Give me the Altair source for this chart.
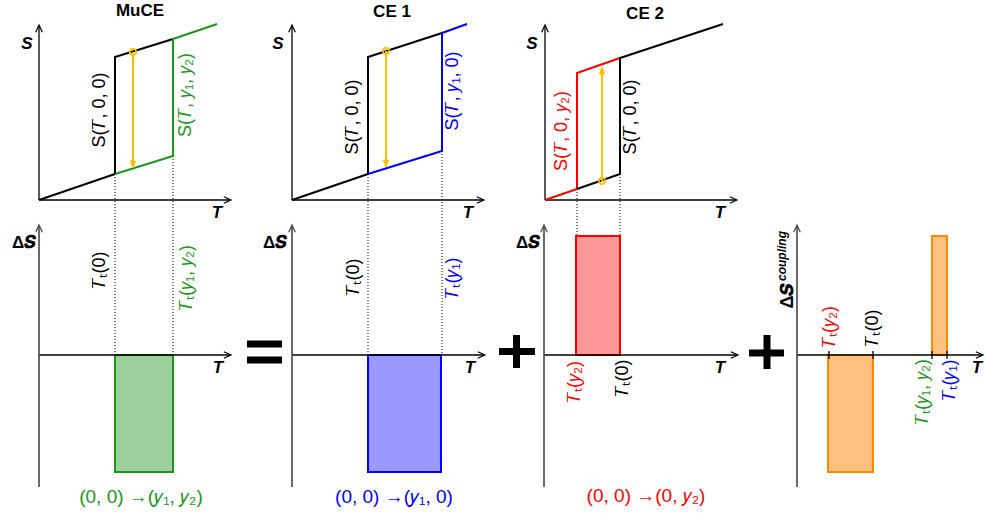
import altair as alt
import pandas as pd

W, H = 985, 514
BLACK, GREEN, BLUE, RED = "#000000", "#1a961a", "#0000ff", "#ff0000"
GOLD, ORANGE = "#ffbf00", "#ff8a00"
FONT = "Liberation Sans"

# ---------------- schematic data (chart units, y grows downward) ----------------
# S(T) branches of the three upper schematics
curve_id = ["m0"] * 4 + ["m1"] * 4 + ["c0"] * 4 + ["c1"] * 4 + ["d0"] * 4 + ["d1"] * 4
curve_T = [39, 115, 115, 173, 115, 173, 173, 217,
           292, 368, 368, 442, 368, 442, 442, 467,
           545, 577, 577, 620, 577, 620, 620, 723]
curve_S = [200, 174, 57, 39, 174, 156, 39, 24,
           200, 174, 57, 33, 174, 151, 33, 24,
           200, 189, 73, 58, 189, 174, 58, 24]
curve_colors = {"m0": BLACK, "m1": GREEN, "c0": BLACK, "c1": BLUE, "d0": RED, "d1": BLACK}

# axes (upper S-T diagrams and lower ΔS-T diagrams)
top_origin_x = [39, 292, 545]
top_T_end = [231, 484, 737]
top_origin_y, top_S_end = 200, 25
bot_origin_x = [39, 292, 544, 797]
bot_T_end = [231, 485, 738, 983]
bot_axis_y, bot_top, bot_bottom = 355, 225, 487

# transition temperatures (dotted guides): x, start on curve
guide_T = [115, 173, 368, 442, 577, 620]
guide_S = [174, 156, 174, 151, 189, 174]

# ΔS blocks
block_T1 = [115, 368, 576, 828, 932]
block_T2 = [173, 441, 620, 873, 947]
block_S1 = [355, 355, 236, 355, 236]
block_S2 = [472, 472, 355, 472, 355]
block_fill = ["#9dd09d", "#9999ff", "#ff9999", "#ffc080", "#ffc080"]
block_stroke = [GREEN, BLUE, RED, ORANGE, ORANGE]

# ticks on coupling axis
tick_T = [829, 873, 932, 947]

# orange process arrows
arrow_T = [133, 386, 602]
arrow_from = [52, 51, 181]
arrow_to = [168, 167, 67]

# operators "=" and "+"
op_x1 = [247, 247, 499, 516.5, 749, 767]
op_x2 = [282, 282, 535, 516.5, 784, 767]
op_y1 = [344, 360, 351.5, 335, 353, 335]
op_y2 = [344, 360, 351.5, 368, 353, 369]

# texts
title_text = ["MuCE", "CE 1", "CE 2"]
title_x = [140, 392, 645]
title_y = [11, 12, 14]

axlab_text = ["S", "S", "S", "T", "T", "T", "T", "T", "T", "T"]
axlab_x = [27, 278, 532, 217, 468, 720, 218, 470, 720, 977]
axlab_y = [44, 44, 44, 213, 213, 213, 368, 368, 368, 368]

dslab_text = ["Δ𝑺", "Δ𝑺", "Δ𝑺"]
dslab_x = [24, 275, 528]
dslab_y = [243, 243, 243]

vlab_text = ["S(𝑇, 0, 0)", "S(𝑇, 𝑦₁, 𝑦₂)", "S(𝑇, 0, 0)", "S(𝑇, 𝑦₁, 0)", "S(𝑇, 0, 𝑦₂)", "S(𝑇, 0, 0)",
             "𝑇ₜ(0)", "𝑇ₜ(𝑦₁, 𝑦₂)", "𝑇ₜ(0)", "𝑇ₜ(𝑦₁)", "𝑇ₜ(𝑦₂)", "𝑇ₜ(0)",
             "𝑇ₜ(𝑦₂)", "𝑇ₜ(0)", "𝑇ₜ(𝑦₁, 𝑦₂)", "𝑇ₜ(𝑦₁)"]
vlab_x = [100, 186, 353, 453, 562, 631, 100, 187, 354, 453, 575, 623, 830, 873, 923, 950]
vlab_y = [110, 95, 117, 91, 131, 117, 270, 278, 277, 278, 382, 378, 327, 328, 392, 380]
vlab_col = [BLACK, GREEN, BLACK, BLUE, RED, BLACK, BLACK, GREEN, BLACK, BLUE, RED, BLACK,
            RED, BLACK, GREEN, BLUE]

proc_text = ["(0, 0) →(𝑦₁, 𝑦₂)", "(0, 0) →(𝑦₁, 0)", "(0, 0) →(0, 𝑦₂)"]
proc_x = [141, 394, 646]
proc_y = [497, 497, 496]
proc_col = [GREEN, BLUE, RED]

# ---------------- build chart ----------------
xs = alt.Scale(domain=[0, W], nice=False, zero=False)
ys = alt.Scale(domain=[0, H], nice=False, zero=False, reverse=True)


def X(f="x"):
    return alt.X(f"{f}:Q", scale=xs, axis=None)


def Y(f="y"):
    return alt.Y(f"{f}:Q", scale=ys, axis=None)


# curves
order_in_path = []
seen = {}
for cid in curve_id:
    seen[cid] = seen.get(cid, -1) + 1
    order_in_path.append(seen[cid])
curves = pd.DataFrame({
    "id": curve_id, "x": curve_T, "y": curve_S,
    "o": order_in_path, "c": [curve_colors[i] for i in curve_id],
})
curve_layer = alt.Chart(curves).mark_line(strokeWidth=2, strokeJoin="miter").encode(
    x=X(), y=Y(), detail="id:N", order="o:Q", color=alt.Color("c:N", scale=None))

# axis lines
ax_rows = []
for ox, te in zip(top_origin_x, top_T_end):
    ax_rows.append(dict(x=ox, y=top_origin_y, x2=te - 1, y2=top_origin_y, c="#000000", w=1.3))
    ax_rows.append(dict(x=ox, y=top_origin_y, x2=ox, y2=top_S_end + 1, c="#000000", w=1.3))
for ox, te in zip(bot_origin_x, bot_T_end):
    ax_rows.append(dict(x=ox, y=bot_axis_y, x2=te - 1, y2=bot_axis_y, c="#000000", w=1.3))
    ax_rows.append(dict(x=ox, y=bot_bottom, x2=ox, y2=bot_top + 1, c="#444444", w=1.6))
axes = pd.DataFrame(ax_rows)
axis_layer = alt.Chart(axes).mark_rule().encode(
    x=X(), y=Y(), x2="x2:Q", y2="y2:Q",
    color=alt.Color("c:N", scale=None), strokeWidth=alt.StrokeWidth("w:Q", scale=None))

# arrow heads of axes
head_rows = []
for ox, te in zip(top_origin_x, top_T_end):
    head_rows.append(dict(x=te, y=top_origin_y, a=90, c="#000000"))
    head_rows.append(dict(x=ox, y=top_S_end, a=0, c="#000000"))
for ox, te in zip(bot_origin_x, bot_T_end):
    head_rows.append(dict(x=te, y=bot_axis_y, a=90, c="#000000"))
    head_rows.append(dict(x=ox, y=bot_top, a=0, c="#444444"))
heads = pd.DataFrame(head_rows)
head_layer = alt.Chart(heads).mark_point(
    shape="M-1.1,2.4L0,0L1.1,2.4", filled=False, size=36, strokeWidth=1.2, opacity=1
).encode(x=X(), y=Y(), angle=alt.Angle("a:Q", scale=None), color=alt.Color("c:N", scale=None))

# dotted guides
guides = pd.DataFrame({"x": guide_T, "y": guide_S, "y2": [bot_axis_y] * len(guide_T)})
guide_layer = alt.Chart(guides).mark_rule(color="#000000", strokeWidth=1, strokeDash=[1, 2]).encode(
    x=X(), y=Y(), y2="y2:Q")

# blocks
blocks = pd.DataFrame({"x": block_T1, "x2": block_T2, "y": block_S1, "y2": block_S2,
                       "f": block_fill, "s": block_stroke})
block_layer = alt.Chart(blocks).mark_rect(strokeWidth=2, opacity=1).encode(
    x=X(), x2="x2:Q", y=Y(), y2="y2:Q",
    fill=alt.Fill("f:N", scale=None), stroke=alt.Stroke("s:N", scale=None))

# ticks
ticks = pd.DataFrame({"x": tick_T, "y": [bot_axis_y - 4] * 4, "y2": [bot_axis_y + 4] * 4})
tick_layer = alt.Chart(ticks).mark_rule(color="#000000", strokeWidth=1.3).encode(
    x=X(), y=Y(), y2="y2:Q")

# orange process arrows
arr = pd.DataFrame({"x": arrow_T, "y": arrow_from, "yt": arrow_to})
arr["y2"] = [t - 5 if t > f else t + 5 for f, t in zip(arrow_from, arrow_to)]
arr["a"] = [0 if t > f else 180 for f, t in zip(arrow_from, arrow_to)]
arrow_line = alt.Chart(arr).mark_rule(color=GOLD, strokeWidth=2).encode(x=X(), y=Y(), y2="y2:Q")
arrow_head = alt.Chart(arr).mark_point(
    shape="M-1,-2.8L0,0L1,-2.8Z", filled=True, size=25, fill=GOLD, stroke=GOLD, strokeWidth=1,
    opacity=1, fillOpacity=1
).encode(x=X(), y=Y("yt"), angle=alt.Angle("a:Q", scale=None))
arrow_circle = alt.Chart(arr).mark_point(
    shape="circle", filled=False, size=40, color=GOLD, strokeWidth=1.6, opacity=1
).encode(x=X(), y=Y())

# operators
ops = pd.DataFrame({"x": op_x1, "x2": op_x2, "y": op_y1, "y2": op_y2})
op_layer = alt.Chart(ops).mark_rule(color="#000000", strokeWidth=7, strokeCap="butt").encode(
    x=X(), x2="x2:Q", y=Y(), y2="y2:Q")

# texts
titles = pd.DataFrame({"x": title_x, "y": title_y, "t": title_text})
title_layer = alt.Chart(titles).mark_text(
    font=FONT, fontSize=17, fontWeight="bold", align="center", baseline="middle", color="#000000"
).encode(x=X(), y=Y(), text="t:N")

axl = pd.DataFrame({"x": axlab_x, "y": axlab_y, "t": axlab_text})
axl_layer = alt.Chart(axl).mark_text(
    font=FONT, fontSize=17, fontWeight="bold", fontStyle="italic", align="center",
    baseline="middle", color="#000000"
).encode(x=X(), y=Y(), text="t:N")

dsl = pd.DataFrame({"x": dslab_x, "y": dslab_y, "t": dslab_text})
dsl_layer = alt.Chart(dsl).mark_text(
    font=FONT, fontSize=17, fontWeight="bold", align="center",
    baseline="middle", color="#000000"
).encode(x=X(), y=Y(), text="t:N")

vl = pd.DataFrame({"x": vlab_x, "y": vlab_y, "t": vlab_text, "c": vlab_col})
vl_layer = alt.Chart(vl).mark_text(
    font=FONT, fontSize=18, angle=270, align="center", baseline="middle"
).encode(x=X(), y=Y(), text="t:N", color=alt.Color("c:N", scale=None))

pr = pd.DataFrame({"x": proc_x, "y": proc_y, "t": proc_text, "c": proc_col})
pr_layer = alt.Chart(pr).mark_text(
    font=FONT, fontSize=19, align="center", baseline="middle"
).encode(x=X(), y=Y(), text="t:N", color=alt.Color("c:N", scale=None))

coup_main = pd.DataFrame({"x": [788], "y": [296], "t": ["Δ𝑺"]})
coup_main_layer = alt.Chart(coup_main).mark_text(
    font=FONT, fontSize=18, fontWeight="bold", angle=270, align="center", baseline="middle",
    color="#000000"
).encode(x=X(), y=Y(), text="t:N")
coup_sup = pd.DataFrame({"x": [782], "y": [256], "t": ["coupling"]})
coup_sup_layer = alt.Chart(coup_sup).mark_text(
    font=FONT, fontSize=12, fontWeight="bold", fontStyle="italic", angle=270, align="center",
    baseline="middle", color="#000000"
).encode(x=X(), y=Y(), text="t:N")

chart = alt.layer(
    guide_layer, block_layer, axis_layer, head_layer, tick_layer, curve_layer,
    arrow_line, arrow_head, arrow_circle, op_layer,
    title_layer, axl_layer, dsl_layer, vl_layer, pr_layer, coup_main_layer, coup_sup_layer,
).properties(
    width=W, height=H, autosize="none", padding=0, background="white"
).configure_view(stroke=None)

chart.save("out.html", embed_options={"renderer": "svg", "actions": False})
